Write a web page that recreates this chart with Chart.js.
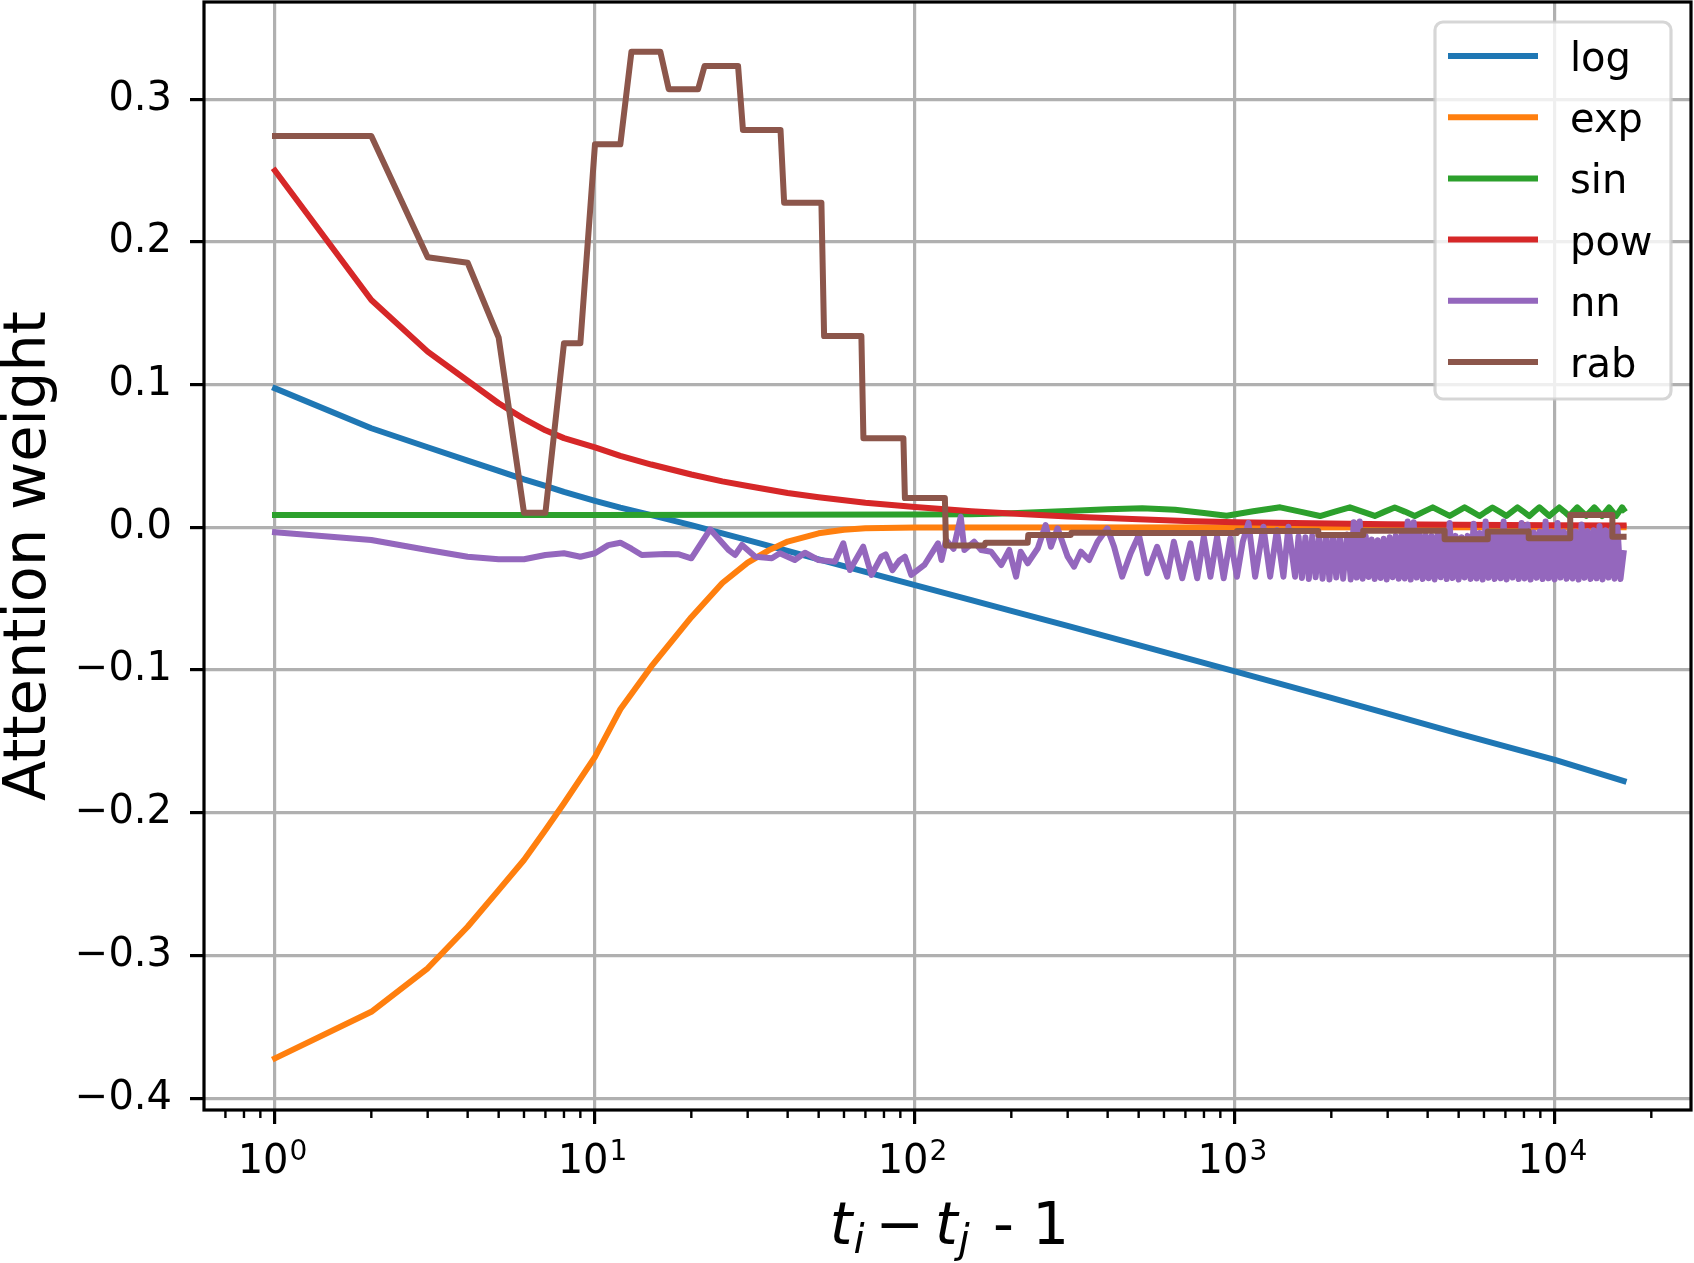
<!DOCTYPE html>
<html>
<head>
<meta charset="utf-8">
<title>Attention weight</title>
<script src="https://cdn.jsdelivr.net/npm/chart.js@4.4.1/dist/chart.umd.min.js"></script>
<style>
  html, body { margin: 0; padding: 0; background: #fff; }
  canvas { display: block; }
</style>
</head>
<body>
<canvas id="chart" width="1694" height="1263"></canvas>
<script>
// series names and colours (matplotlib tab10)
const seriesNames = ["log", "exp", "sin", "pow", "nn", "rab"];
const seriesColors = ["#1f77b4", "#ff7f0e", "#2ca02c", "#d62728", "#9467bd", "#8c564b"];

// smooth curves, read at these distances
const smoothX = [1, 2, 3, 4, 5, 6, 7, 8, 10, 12, 15, 20, 25, 30, 40, 50, 70, 100, 150, 200, 300, 500, 700, 1000, 2000, 3000, 5000, 7000, 10000, 16384];
const logY = [0.0974, 0.0694, 0.0561, 0.0467, 0.0395, 0.0336, 0.0290, 0.0249, 0.0186, 0.0138, 0.0085, 0.0015, -0.0043, -0.0090, -0.0165, -0.0225, -0.0312, -0.0405, -0.0510, -0.0585, -0.0690, -0.0825, -0.0915, -0.1010, -0.1195, -0.1305, -0.1445, -0.1535, -0.1630, -0.1778];
const powY = [0.2499, 0.1593, 0.1231, 0.1027, 0.0869, 0.0760, 0.0680, 0.0625, 0.0560, 0.0500, 0.0440, 0.0370, 0.0322, 0.0290, 0.0240, 0.0210, 0.0172, 0.0142, 0.0113, 0.0096, 0.0076, 0.0056, 0.0044, 0.0036, 0.0026, 0.0022, 0.0018, 0.0016, 0.0014, 0.0012];

// exp rises fast and is flat at 0 after ~100
const expX = [1, 2, 3, 4, 5, 6, 7, 8, 10, 12, 15, 20, 25, 30, 35, 40, 50, 60, 70, 100, 16384];
const expY = [-0.3721, -0.3395, -0.3090, -0.2799, -0.2542, -0.2331, -0.2121, -0.1934, -0.1608, -0.1275, -0.0975, -0.0630, -0.0390, -0.0248, -0.0160, -0.0100, -0.0042, -0.0017, -0.0007, -0.0001, 0];

// sin: flat, then a wobble that gets faster (peak / mid / trough / mid)
const sinX = [1, 10, 100, 150, 200, 300, 400, 513, 650, 800, 942, 1140, 1384,
  1598, 1844, 2053, 2286, 2500, 2735, 2939, 3157, 3393, 3646, 3890, 4150, 4411, 4688, 4946, 5218, 5507, 5811, 6088, 6378, 6706, 7050, 7337, 7636,
  7970, 8318, 8622, 8938, 9264, 9601, 9951, 10313, 10689, 11079, 11405, 11741, 12127, 12526, 12894, 13273, 13650, 14037, 14394, 14761, 15141, 15531, 15871, 16218, 16384];
const sinY = [0.0086, 0.0087, 0.0089, 0.0092, 0.0099, 0.0115, 0.0127, 0.0133, 0.0123, 0.0100, 0.0081, 0.0112, 0.0140,
  0.0110, 0.0079, 0.0110, 0.0140,
  0.0110, 0.0080, 0.0110, 0.0139,
  0.0110, 0.0079, 0.0110, 0.0140,
  0.0110, 0.0080, 0.0110, 0.0140,
  0.0110, 0.0079, 0.0110, 0.0139,
  0.0110, 0.0080, 0.0110, 0.0140,
  0.0110, 0.0079, 0.0110, 0.0140,
  0.0110, 0.0080, 0.0110, 0.0139,
  0.0110, 0.0079, 0.0110, 0.0140,
  0.0110, 0.0080, 0.0110, 0.0140,
  0.0110, 0.0079, 0.0110, 0.0139,
  0.0110, 0.0080, 0.0110, 0.0140,
  0.0125];

// nn: noisy learned curve, first part
const nnX = [1, 2, 3, 4, 5, 6, 7, 8, 9, 10, 11, 12, 13, 14, 16.6, 18.3, 20, 22.9, 26.2, 27.4, 28.8, 31.7, 35.7, 37.8, 42.1, 45.3, 49.9, 56.2, 59.7, 62.6, 68.9, 73.1, 78.5, 81, 85, 89.6, 93, 97.4,
  107, 118, 121, 125, 132, 139, 142.7, 153, 161, 173, 186, 197, 207, 214, 225, 242, 256, 266, 279, 300, 314, 330, 350, 372, 399, 419, 444, 472, 501, 532, 571, 614, 644, 684, 726, 762, 799, 838, 879, 922, 967,
  1014, 1058, 1102, 1156, 1227, 1288, 1352, 1417, 1469, 1541, 1580, 1619, 1660, 1701, 1744, 1787, 1832, 1878, 1925, 1973, 2022, 2073, 2125, 2178, 2240];
const nnY = [-0.0035, -0.0089, -0.0159, -0.0206, -0.0224, -0.0224, -0.0194, -0.0182, -0.0206, -0.0182, -0.0125, -0.0108, -0.0150, -0.0194, -0.0187, -0.0189, -0.0217, -0.0014, -0.0160, -0.0194, -0.0124, -0.0206, -0.0217, -0.0182, -0.0229, -0.0178, -0.0229, -0.0241, -0.0112, -0.0299, -0.0136, -0.0334, -0.0206, -0.0190, -0.0300, -0.0230, -0.0206, -0.0334,
  -0.0264, -0.0112, -0.0229, -0.0089, -0.0150, 0.0074, -0.0159, -0.0101, -0.0159, -0.0171, -0.0264, -0.0159, -0.0346, -0.0171, -0.0252, -0.0147, 0.0016, -0.0136, -0.0007, -0.0206, -0.0276, -0.0171, -0.0229, -0.0101, -0.0007, -0.0136, -0.0346, -0.0182, -0.0054, -0.0322, -0.0136, -0.0346, -0.0101, -0.0357, -0.0112, -0.0357, -0.0066, -0.0346, -0.0066, -0.0357, -0.0077,
  -0.0346, -0.0100, 0.0032, -0.0346, 0.0004, -0.0346, -0.0019, -0.0346, 0.0004, -0.0346, -0.0065, -0.0355, -0.0070, -0.0362, -0.0060, -0.0350, -0.0068, -0.0360, -0.0062, -0.0365, -0.0055, -0.0352, -0.0060, -0.0360, -0.0050];

// nn: dense oscillating tail (low, high, low, high ...)
const nnTailX = [2300, 2350, 2401, 2454, 2507, 2562, 2618, 2675, 2733, 2793, 2854, 2916, 2980, 3045, 3111, 3179, 3248, 3319, 3391, 3465, 3541, 3618, 3697, 3777, 3860, 3944, 4030, 4118, 4207, 4299, 4393, 4489, 4586, 4686, 4789, 4893,
  5000, 5109, 5220, 5334, 5450, 5569, 5691, 5815, 5941, 6071, 6203, 6339, 6477, 6618, 6763, 6910, 7061, 7215, 7372, 7533, 7697, 7865, 8036, 8211, 8390, 8573, 8760, 8951, 9146, 9346, 9549, 9757, 9970,
  10188, 10410, 10637, 10869, 11106, 11348, 11595, 11848, 12106, 12370, 12640, 12915, 13197, 13485, 13779, 14079, 14386, 14700, 15020, 15348, 15682, 16024, 16384];
const nnTailY = [-0.0365, 0.0035, -0.0352, 0.0040, -0.0360, -0.0060, -0.0348, -0.0085, -0.0362, -0.0090, -0.0355, -0.0080, -0.0366, -0.0070, -0.0350, -0.0060, -0.0360, -0.0050, -0.0358, 0.0040,
  -0.0366, 0.0035, -0.0352, -0.0050, -0.0362, -0.0055, -0.0357, -0.0060, -0.0365, -0.0050, -0.0350, -0.0040, -0.0362, 0.0030, -0.0356, -0.0060,
  -0.0366, -0.0070, -0.0352, -0.0060, -0.0362, 0.0025, -0.0358, -0.0040, -0.0366, 0.0040, -0.0354, -0.0045, -0.0362, -0.0040, -0.0357, 0.0040, -0.0365, -0.0040, -0.0352, -0.0035, -0.0362, 0.0030, -0.0358, 0.0020,
  -0.0366, -0.0035, -0.0354, -0.0030, -0.0362, 0.0040, -0.0357, -0.0030, -0.0365, 0.0030, -0.0352, -0.0030, -0.0360, -0.0025, -0.0358, -0.0030, -0.0366, 0.0020, -0.0354, -0.0025, -0.0362, -0.0020,
  -0.0357, 0.0010, -0.0365, -0.0020, -0.0352, -0.0015, -0.0360, 0.0000, -0.0362, -0.0180];

// rab: bucketed (step) weights
const rabX = [1, 2, 3, 4, 5, 6, 7, 8, 9, 10, 12, 13, 16, 17, 21, 22, 28, 29, 38, 39, 51, 52, 68, 69, 92, 93, 124, 125, 165, 166, 225, 226, 307, 308, 409, 410, 1014, 1015, 1820, 1821, 2515, 2516, 4519, 4520, 6165, 6166, 8278, 8279, 11159, 11160, 15114, 15115, 16384];
const rabY = [0.2742, 0.2742, 0.1892, 0.1854, 0.1329, 0.0102, 0.0102, 0.1290, 0.1290, 0.2684, 0.2684, 0.3333, 0.3333, 0.3070, 0.3070, 0.3233, 0.3233, 0.2784, 0.2784, 0.2275, 0.2275, 0.1340, 0.1340, 0.0624, 0.0624, 0.0205, 0.0205, -0.0127, -0.0127, -0.0108, -0.0108, -0.0054, -0.0054, -0.0038, -0.0038, -0.0040, -0.0040, -0.0025, -0.0025, -0.0054, -0.0054, -0.0024, -0.0024, -0.0084, -0.0084, -0.0030, -0.0030, -0.0077, -0.0077, 0.0086, 0.0086, -0.0066, -0.0066];

// ticks
const yTicks = [-0.4, -0.3, -0.2, -0.1, 0, 0.1, 0.2, 0.3];
const xMajor = [1, 10, 100, 1000, 10000];
const xTickBase = "10";
const xTickExp = ["0", "1", "2", "3", "4"];
const xMinor = [0.7, 0.8, 0.9, 2, 3, 4, 5, 6, 7, 8, 9, 20, 30, 40, 50, 60, 70, 80, 90, 200, 300, 400, 500, 600, 700, 800, 900,
  2000, 3000, 4000, 5000, 6000, 7000, 8000, 9000, 20000];

Chart.defaults.font.family = '"DejaVu Sans", sans-serif';
Chart.defaults.color = "#000";

const toPoints = (xs, ys) => xs.map((x, i) => ({ x: x, y: ys[i] }));

const lineSet = (i, points) => ({
  label: seriesNames[i],
  data: points,
  borderColor: seriesColors[i],
  backgroundColor: seriesColors[i],
  borderWidth: 6,
  pointRadius: 0,
  pointHoverRadius: 0,
  tension: 0,
  fill: false,
  borderJoinStyle: "round",
  borderCapStyle: "square",
  order: 6 - i, // later series on top, like matplotlib
});

const fmtY = (v) => {
  const s = Math.abs(v).toFixed(1);
  return v < -1e-9 ? "\u2212" + s : s;
};

// axes box + minor ticks on the log axis
const frame = {
  id: "frame",
  afterDatasetsDraw(chart) {
    const { ctx, chartArea: a } = chart;
    const xs = chart.scales.x;
    ctx.save();
    ctx.strokeStyle = "#000";
    ctx.lineWidth = 2.4;
    ctx.beginPath();
    xMinor.forEach((v) => {
      const px = xs.getPixelForValue(v);
      ctx.moveTo(px, a.bottom);
      ctx.lineTo(px, a.bottom + 8);
    });
    ctx.stroke();
    ctx.lineWidth = 3.2;
    ctx.strokeRect(a.left, a.top, a.right - a.left, a.bottom - a.top);
    ctx.restore();
  },
};

// 10^n labels with a real superscript
const xTickText = {
  id: "xTickText",
  afterDraw(chart) {
    const { ctx, chartArea: a } = chart;
    const xs = chart.scales.x;
    ctx.save();
    ctx.fillStyle = "#000";
    ctx.textAlign = "left";
    ctx.textBaseline = "alphabetic";
    xMajor.forEach((v, i) => {
      const px = xs.getPixelForValue(v);
      ctx.font = '40px "DejaVu Sans"';
      const wb = ctx.measureText(xTickBase).width;
      ctx.font = '28px "DejaVu Sans"';
      const we = ctx.measureText(xTickExp[i]).width;
      const x0 = px - (wb + we) / 2 - 3;
      ctx.font = '40px "DejaVu Sans"';
      ctx.fillText(xTickBase, x0, a.bottom + 63);
      ctx.font = '28px "DejaVu Sans"';
      ctx.fillText(xTickExp[i], x0 + wb + 1, a.bottom + 50);
    });
    ctx.restore();
  },
};

// legend box in the upper right corner
const boxLegend = {
  id: "boxLegend",
  afterDraw(chart) {
    const { ctx, chartArea: a } = chart;
    const w = 236, h = 377, r = 8, rowH = 61.2;
    const right = a.right - 20, top = a.top + 20;
    const left = right - w, bottom = top + h;
    ctx.save();
    ctx.beginPath();
    ctx.moveTo(left + r, top);
    ctx.lineTo(right - r, top);
    ctx.arcTo(right, top, right, top + r, r);
    ctx.lineTo(right, bottom - r);
    ctx.arcTo(right, bottom, right - r, bottom, r);
    ctx.lineTo(left + r, bottom);
    ctx.arcTo(left, bottom, left, bottom - r, r);
    ctx.lineTo(left, top + r);
    ctx.arcTo(left, top, left + r, top, r);
    ctx.closePath();
    ctx.fillStyle = "rgba(255,255,255,0.8)";
    ctx.fill();
    ctx.strokeStyle = "rgba(204,204,204,0.8)";
    ctx.lineWidth = 3.2;
    ctx.stroke();

    ctx.font = '40px "DejaVu Sans"';
    ctx.textAlign = "left";
    ctx.textBaseline = "alphabetic";
    chart.data.datasets.forEach((ds, i) => {
      const y = top + 34 + i * rowH;
      ctx.strokeStyle = ds.borderColor;
      ctx.lineWidth = 6;
      ctx.lineCap = "butt";
      ctx.beginPath();
      ctx.moveTo(left + 13, y);
      ctx.lineTo(left + 103, y);
      ctx.stroke();
      ctx.fillStyle = "#000";
      ctx.fillText(ds.label, left + 135, y + 15);
    });
    ctx.restore();
  },
};

// x axis title with italic t and subscripts
const xTitle = {
  id: "xTitle",
  afterDraw(chart) {
    const { ctx, chartArea: a } = chart;
    const mid = (a.left + a.right) / 2;
    const base = 1244;
    const parts = [
      ["t", 'italic 58px "DejaVu Sans"', -117.7, 0],
      ["i", 'italic 40px "DejaVu Sans"', -94, 9],
      ["\u2212", '58px "DejaVu Sans"', -72, 0],
      ["t", 'italic 58px "DejaVu Sans"', -12.5, 0],
      ["j", 'italic 40px "DejaVu Sans"', 11, 9],
      [" - 1", '58px "DejaVu Sans"', 27, 0],
    ];
    ctx.save();
    ctx.fillStyle = "#000";
    ctx.textAlign = "left";
    ctx.textBaseline = "alphabetic";
    parts.forEach(([t, font, dx, dy]) => {
      ctx.font = font;
      ctx.fillText(t, mid + dx, base + dy);
    });
    ctx.restore();
  },
};

new Chart(document.getElementById("chart"), {
  type: "line",
  data: {
    datasets: [
      lineSet(0, toPoints(smoothX, logY)),
      lineSet(1, toPoints(expX, expY)),
      lineSet(2, toPoints(sinX, sinY)),
      lineSet(3, toPoints(smoothX, powY)),
      lineSet(4, toPoints(nnX, nnY).concat(toPoints(nnTailX, nnTailY))),
      lineSet(5, toPoints(rabX, rabY)),
    ],
  },
  options: {
    responsive: false,
    animation: false,
    devicePixelRatio: 1,
    layout: { padding: { left: 0, right: 3, top: 2, bottom: 0 } },
    plugins: {
      legend: { display: false },
      tooltip: { enabled: false },
    },
    scales: {
      x: {
        type: "logarithmic",
        position: "bottom",
        min: 0.6155,
        max: 26612,
        afterBuildTicks: (scale) => {
          scale.ticks = xMajor.map((v) => ({ value: v, major: true }));
        },
        afterFit: (scale) => {
          scale.height = 153;
          scale.paddingLeft = 0;
          scale.paddingRight = 0;
        },
        border: { display: false },
        grid: {
          color: "#b0b0b0",
          lineWidth: 3.2,
          tickLength: 14,
          tickWidth: 3.2,
          tickColor: "#000",
        },
        ticks: {
          autoSkip: false,
          maxRotation: 0,
          callback: () => "", // drawn by xTickText
        },
      },
      y: {
        type: "linear",
        min: -0.4083,
        max: 0.3681,
        afterBuildTicks: (scale) => {
          scale.ticks = yTicks.map((v) => ({ value: v }));
        },
        afterFit: (scale) => {
          scale.width = 204;
          scale.paddingTop = 0;
          scale.paddingBottom = 0;
        },
        border: { display: false },
        grid: {
          color: "#b0b0b0",
          lineWidth: 3.2,
          tickLength: 14,
          tickWidth: 3.2,
          tickColor: "#000",
        },
        ticks: {
          padding: 18,
          font: { size: 40 },
          callback: (v) => fmtY(v),
        },
        title: {
          display: true,
          text: "Attention weight",
          font: { size: 59 },
          padding: { top: -6, bottom: 0 },
        },
      },
    },
  },
  plugins: [frame, xTickText, boxLegend, xTitle],
});
</script>
</body>
</html>
